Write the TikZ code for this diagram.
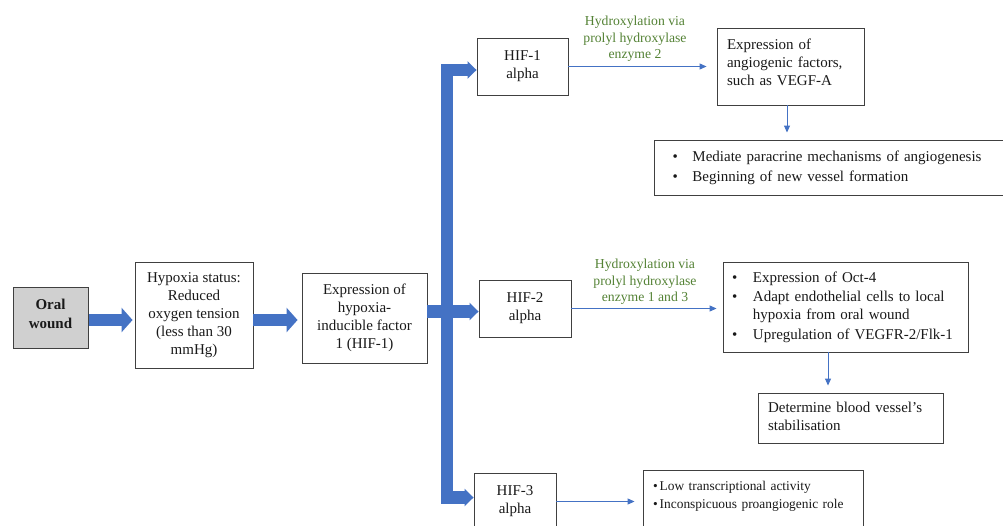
\documentclass[tikz,border=0pt]{standalone}
\usepackage{fontspec}
\setmainfont{Liberation Serif}
\usetikzlibrary{arrows.meta}
\definecolor{wblue}{RGB}{68,114,196}
\definecolor{wgreen}{RGB}{84,130,53}
\definecolor{boxline}{RGB}{64,64,64}
\definecolor{oralgray}{RGB}{208,208,208}
\definecolor{txt}{RGB}{25,25,25}
\newcommand{\dropdepth}[1]{\rule[-#1]{0pt}{#1}}
\begin{document}
\begin{tikzpicture}[x=1pt,y=-1pt,
  box/.style={draw=boxline, line width=0.9pt, inner sep=0pt, text=txt,
    font=\fontsize{15}{18}\selectfont, align=center},
  lbox/.style={box, align=left},
  glabel/.style={text=wgreen, align=center, inner sep=0pt,
    font=\fontsize{13.7}{16.5}\selectfont},
  blockarrow/.style={draw=wblue, line width=12pt,
    -{Triangle[width=24pt,length=11pt]}},
  bar/.style={draw=wblue, line width=12.5pt, line join=miter},
  thinarrow/.style={draw=wblue, line width=1pt,
    -{Triangle[width=6pt,length=7pt]}}
]
\useasboundingbox (0,0) rectangle (1003,525);

% left chain
\node[box, minimum width=75pt, minimum height=61pt, fill=oralgray,
  font=\fontsize{15}{19}\selectfont\bfseries] (oral) at (50.5,318) {Oral\\wound\dropdepth{9pt}};
\node[box, minimum width=118pt, minimum height=106pt] (hyp) at (194,315)
  {Hypoxia status:\\Reduced\\oxygen tension\\(less than 30\\mmHg)};
\node[box, minimum width=125pt, minimum height=90pt] (expr) at (364.5,318)
  {Expression of\\hypoxia-\\inducible factor\\1 (HIF-1)};

% HIF boxes
\node[box, minimum width=91pt, minimum height=57pt] (hif1) at (522.5,66.5) {HIF-1\\alpha\dropdepth{4pt}};
\node[box, minimum width=92pt, minimum height=57pt] (hif2) at (525,308.5) {HIF-2\\alpha\dropdepth{3pt}};
\node[box, minimum width=82pt, minimum height=57pt] (hif3) at (515,501.5) {HIF-3\\alpha\dropdepth{3pt}};

% right boxes
\node[lbox, text width=127pt, inner xsep=10pt, minimum height=77pt] (angio) at (790.5,66.5)
  {Expression of\\angiogenic factors,\\such as VEGF-A\dropdepth{9pt}};
\node[lbox, text width=319pt, inner xsep=18pt, minimum height=55pt] (bul1) at (832,167.5)
  {\renewcommand{\arraystretch}{1.11}\begin{tabular}{@{}l@{\hspace{14.7pt}}l@{}}
   \textbullet & Mediate paracrine mechanisms of angiogenesis\\
   \textbullet & Beginning of new vessel formation
   \end{tabular}};
\node[lbox, text width=227pt, inner xsep=9pt, minimum height=90pt] (hif2r) at (845.5,307)
  {\begin{tabular}{@{}l@{\hspace{15.7pt}}p{200pt}@{}}
   \textbullet & Expression of Oct-4\\[1.5pt]
   \textbullet & Adapt endothelial cells to local hypoxia from oral wound\\[1.5pt]
   \textbullet & Upregulation of VEGFR-2/Flk-1
   \end{tabular}};
\node[lbox, text width=165pt, inner xsep=10pt, minimum height=50pt] (det) at (850.5,418)
  {Determine blood vessel’s\\stabilisation\dropdepth{3pt}};
\node[lbox, text width=200pt, inner xsep=10pt, minimum height=70pt,
  font=\fontsize{13.4}{18.5}\selectfont] (hif3r) at (753,505)
  {\begin{tabular}{@{}l@{\hspace{2pt}}l@{}}
   \textbullet & Low transcriptional activity\\
   \textbullet & Inconspicuous proangiogenic role\\
   &
   \end{tabular}};

% green labels
\node[glabel] (g1) at (635,39) {Hydroxylation via\\prolyl hydroxylase\\enzyme 2};
\node[glabel] (g2) at (645,282) {Hydroxylation via\\prolyl hydroxylase\\enzyme 1 and 3};

% thick arrows
\coordinate (a1) at (0,320);
\coordinate (a2) at (0,320);
\draw[blockarrow, shorten <=1pt, shorten >=2pt] (oral.east |- a1) -- (hyp.west |- a1);
\draw[blockarrow, shorten >=4pt] (hyp.east |- a2) -- (expr.west |- a2);

\coordinate (bt) at (447,70);
\coordinate (bb) at (447,497.5);
\coordinate (mid) at (0,311.5);
\draw[bar, {Triangle[width=17pt,length=9pt]}-{Triangle[width=17pt,length=9pt]}]
  (hif1.west |- bt) -- (bt) -- (bb) -- (hif3.west |- bb);
\draw[bar, -{Triangle[width=17pt,length=9pt]}] (expr.east |- mid) -- (hif2.west |- mid);

% thin arrows
\draw[thinarrow, shorten >=10pt] (hif1.east) -- (hif1.east -| angio.west);
\draw[thinarrow, shorten >=6pt] (hif2.east) -- (hif2.east -| hif2r.west);
\draw[thinarrow, shorten >=8pt] (hif3.east) -- (hif3.east -| hif3r.west);
\coordinate (d1) at (787,0);
\coordinate (d2) at (828,0);
\draw[thinarrow, shorten >=7pt] (angio.south -| d1) -- (bul1.north -| d1);
\draw[thinarrow, shorten >=7pt] (hif2r.south -| d2) -- (det.north -| d2);
\end{tikzpicture}
\end{document}
